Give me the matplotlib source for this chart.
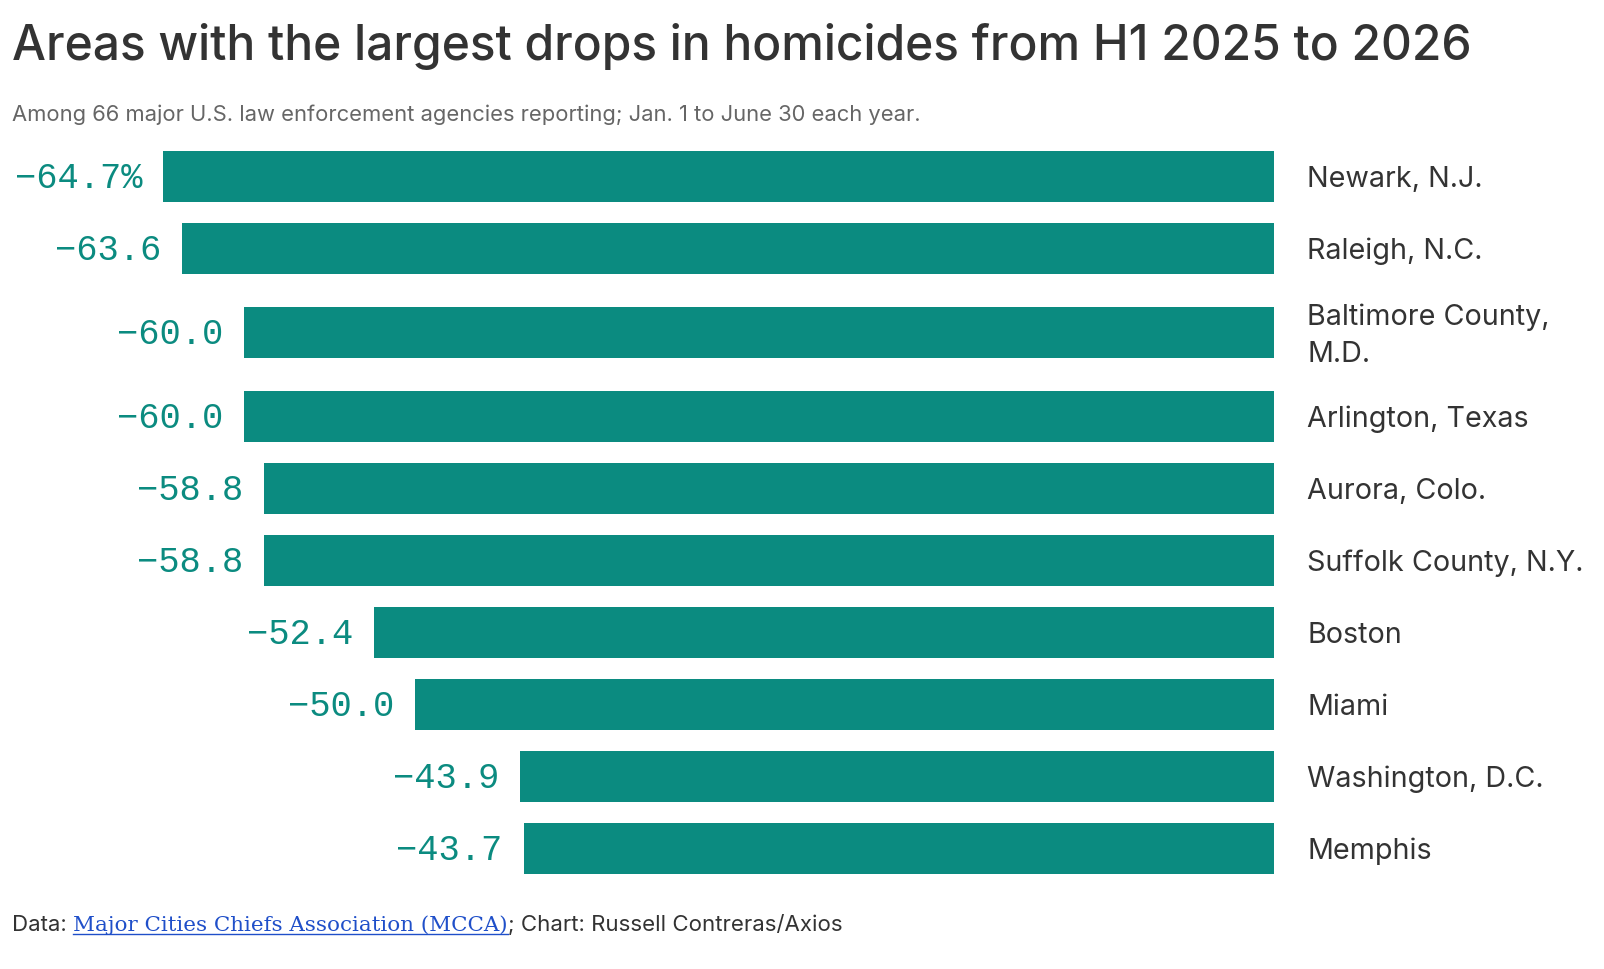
import matplotlib
matplotlib.use("Agg")
import matplotlib.pyplot as plt

# ---- data ----
cities = ["Newark, N.J.", "Raleigh, N.C.", "Baltimore County,\nM.D.", "Arlington, Texas",
          "Aurora, Colo.", "Suffolk County, N.Y.", "Boston", "Miami",
          "Washington, D.C.", "Memphis"]
values = [-64.7, -63.6, -60.0, -60.0, -58.8, -58.8, -52.4, -50.0, -43.9, -43.7]
value_labels = ["−64.7%", "−63.6", "−60.0", "−60.0", "−58.8", "−58.8",
                "−52.4", "−50.0", "−43.9", "−43.7"]

title = "Areas with the largest drops in homicides from H1 2025 to 2026"
subtitle = "Among 66 major U.S. law enforcement agencies reporting; Jan. 1 to June 30 each year."
src_pre = "Data: "
src_link = "Major Cities Chiefs Association (MCCA)"
src_post = "; Chart: Russell Contreras/Axios"

# ---- layout ----
W, H = 1604, 970
ZERO_PX = 1274
PX_PER_UNIT = 17.17
BAR_COLOR = "#0b8b80"
LABEL_COLOR = "#0b8b80"
TEXT_COLOR = "#333333"

fig = plt.figure(figsize=(W / 100, H / 100), dpi=100)
ax = fig.add_axes([0, 0, 1, 1])
ax.set_xlim(-ZERO_PX / PX_PER_UNIT, (W - ZERO_PX) / PX_PER_UNIT)
ax.set_ylim(H, 0)
ax.axis("off")

# row positions (pixels from top); two-line labels get extra room
pitch, extra, first = 72.0, 12.0, 177.5
ys = []
y = first
for i, c in enumerate(cities):
    two = "\n" in c
    if i > 0:
        y += pitch + (extra if two else 0) + (extra if "\n" in cities[i - 1] else 0)
    ys.append(y)

ax.barh(ys, values, height=51.5, left=0, color=BAR_COLOR, linewidth=0)

gap_units = 21 / PX_PER_UNIT
for yy, v, lab, city in zip(ys, values, value_labels, cities):
    ax.text(v - gap_units, yy + 11, lab, ha="right", va="baseline",
            fontsize=25.6, family="Liberation Mono", color=LABEL_COLOR)
    lines = city.split("\n")
    n = len(lines)
    for j, ln in enumerate(lines):
        ax.text(33 / PX_PER_UNIT, yy + 10 + (j - (n - 1) / 2) * 37, ln,
                ha="left", va="baseline", fontsize=20.7, family="Inter",
                color=TEXT_COLOR)

def fx(px):
    return px / W

def fy(py):
    return 1 - py / H

fig.text(fx(12), fy(60), title, ha="left", va="baseline", fontsize=34.5,
         family="Inter", fontweight="medium", color=TEXT_COLOR)
fig.text(fx(12), fy(121), subtitle, ha="left", va="baseline", fontsize=15.8,
         family="Inter", color="#666666")

# footer with link
renderer = fig.canvas.get_renderer()
fb = 931
t1 = fig.text(fx(12), fy(fb), src_pre, ha="left", va="baseline", fontsize=16,
              family="Inter", color=TEXT_COLOR)
e1 = t1.get_window_extent(renderer)
t2 = fig.text(e1.x1 / W, fy(fb), src_link, ha="left", va="baseline", fontsize=15.4,
              family="DejaVu Serif", color="#1f4fc9")
e2 = t2.get_window_extent(renderer)
fig.add_artist(plt.Line2D([e2.x0 / W, e2.x1 / W], [fy(fb + 4)] * 2,
                          transform=fig.transFigure, color="#1f4fc9", linewidth=1))
fig.text(e2.x1 / W, fy(fb), src_post, ha="left", va="baseline", fontsize=16,
         family="Inter", color=TEXT_COLOR)

fig.savefig("out.png", dpi=100, facecolor="white")
